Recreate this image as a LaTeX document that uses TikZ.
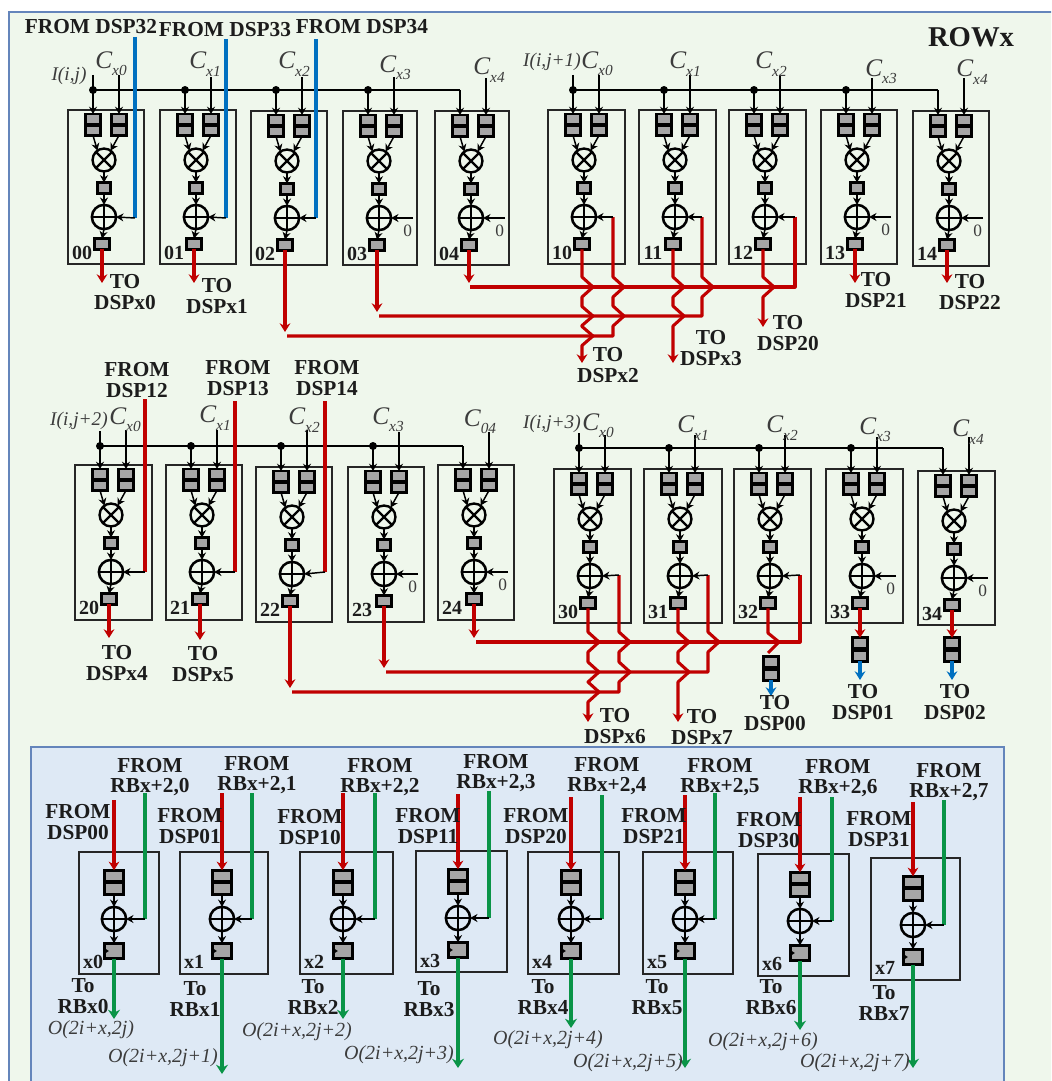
\documentclass[tikz,border=0pt]{standalone}
\usepackage{fontspec}
\setmainfont{Liberation Serif}
\usetikzlibrary{arrows.meta}
\definecolor{bggreen}{HTML}{EFF7EC}
\definecolor{bgblue}{HTML}{DEE9F5}
\definecolor{framecol}{HTML}{6485BB}
\definecolor{myred}{HTML}{C00000}
\definecolor{myblue}{HTML}{0070C0}
\definecolor{mygreen}{HTML}{0A9447}
\definecolor{reggray}{HTML}{A6A6A6}
\definecolor{txt}{HTML}{1C1C1C}
\definecolor{itx}{HTML}{3C3C3C}
\tikzset{
 blkbox/.style={draw=black!85,line width=1.1pt,inner sep=0,outer sep=0},
 regbox/.style={draw=black,fill=reggray,line width=2.1pt,inner sep=0,outer sep=0,minimum width=10.8pt,minimum height=7.4pt},
 smallreg/.style={regbox,line width=2pt,minimum width=10pt,minimum height=8.2pt},
 botreg/.style={regbox,line width=1.9pt,minimum width=14pt,minimum height=8.6pt},
 botout/.style={regbox,line width=1.9pt,minimum width=14.4pt,minimum height=11.4pt},
 mulop/.style={draw=black,circle,line width=1.8pt,minimum size=17.2pt,inner sep=0,outer sep=0},
 addop/.style={draw=black,circle,line width=1.9pt,minimum size=18.2pt,inner sep=0,outer sep=0},
 busdot/.style={fill=black,circle,minimum size=6pt,inner sep=0},
 blk/.style={draw=black,line width=1.1pt,-{Stealth[length=5.5pt,width=6pt]}},
 bline/.style={draw=black,line width=1.1pt},
 redl/.style={draw=myred,line width=2.3pt,line join=round},
 reda/.style={redl,-{Stealth[length=6.5pt,width=8pt]}},
 bluel/.style={draw=myblue,line width=2.6pt},
 bluea/.style={bluel,-{Stealth[length=6.5pt,width=8pt]}},
 greenl/.style={draw=mygreen,line width=2.3pt},
 greena/.style={greenl,-{Stealth[length=7pt,width=9pt]}},
 lbl/.style={font=\fontsize{16}{15.6}\selectfont\bfseries,text=txt,align=center,inner sep=0},
 idl/.style={font=\fontsize{15}{15}\selectfont\bfseries,text=txt,inner sep=0},
 itl/.style={font=\fontsize{15}{15}\selectfont\itshape,text=itx,inner sep=0},
 inl/.style={font=\fontsize{14.5}{15}\selectfont\itshape,text=itx,inner sep=0},
 cxl/.style={text=itx,inner sep=0},
 zerol/.style={font=\fontsize{13}{13}\selectfont,text=itx,inner sep=0},
 qreg/.style={regbox,minimum width=11pt,minimum height=7.8pt},
}
\newcommand\Cxl[1]{\fontsize{19}{19}\selectfont\itshape C\raisebox{-5.5pt}{\fontsize{11.5}{12}\selectfont #1}}
\newcommand\hopd[3]{-- ({#1},{#2-#3}) -- ({#1+11},{#2}) -- ({#1},{#2+#3})}
\newcommand\hopu[3]{-- ({#1},{#2+#3}) -- ({#1+11},{#2}) -- ({#1},{#2-#3})}
\def\odx{34}
% name,left,top,right,bottom,bus y,C top y
\newcommand\dspblk[7]{%
 \node[blkbox,minimum width={(#4-#2)*0.75pt},minimum height={(#5-#3)*0.75pt}] (#1-box) at ({(#2+#4)/2},{(#3+#5)/2}) {};
 \node[regbox] (#1-a1) at ({#2+25},{#3+9}) {};
 \node[regbox] (#1-b1) at ({#2+25},{#3+20.5}) {};
 \node[regbox] (#1-a2) at ({#2+51},{#3+9}) {};
 \node[regbox] (#1-b2) at ({#2+51},{#3+20.5}) {};
 \node[mulop] (#1-m) at ({#2+36},{#3+50}) {};
 \draw[line width=1.8pt] (#1-m.north west)--(#1-m.south east) (#1-m.north east)--(#1-m.south west);
 \node[smallreg] (#1-r) at ({#2+36},{#3+78}) {};
 \node[addop] (#1-p) at ({#2+36},{#3+107}) {};
 \draw[line width=1.9pt] (#1-p.north)--(#1-p.south) (#1-p.west)--(#1-p.east);
 \node[smallreg,minimum width=11pt] (#1-o) at ({#2+\odx},{#3+134}) {};
 \node[idl] (#1-id) at ({#2+14},{#3+143}) {#1};
 \coordinate (#1-d) at ({#2+25},#6);
 \coordinate (#1-c) at ({#2+51},#7);
 \draw[blk] (#1-d)--(#1-a1.north);
 \draw[blk] (#1-c)--(#1-a2.north);
 \draw[blk] (#1-b1.south)--(#1-m.125);
 \draw[blk] (#1-b2.south)--(#1-m.55);
 \draw[blk] (#1-m.south)--(#1-r.north);
 \draw[blk] (#1-r.south)--(#1-p.north);
 \draw[blk] (#1-p.south)--(#1-o.north);
}
\newcommand\zeroin[1]{%
 \coordinate (#1-z) at ([xshift=16.5pt]#1-p.east);
 \draw[blk] (#1-z)--(#1-p.east);
 \node[zerol] (#1-zero) at ([xshift=12.5pt,yshift=-9.5pt]#1-p.east) {0};
}
% name,reg x,box l,box t,box r,box b,green x,green top,red top
\newcommand\botblk[9]{%
 \node[blkbox,minimum width={(#5-#3)*0.75pt},minimum height={(#6-#4)*0.75pt}] (#1-box) at ({(#3+#5)/2},{(#4+#6)/2}) {};
 \node[botreg] (#1-a) at (#2,{#4+24}) {};
 \node[botreg] (#1-b) at (#2,{#4+36.5}) {};
 \node[addop] (#1-p) at (#2,{#4+67}) {};
 \draw[line width=1.9pt] (#1-p.north)--(#1-p.south) (#1-p.west)--(#1-p.east);
 \node[botout] (#1-o) at (#2,{#4+99}) {};
 \fill[black] ([xshift=0.3pt,yshift=2pt]#1-o.west)--++(3pt,-2pt)--++(-3pt,-2pt)--cycle;
 \node[idl] (#1-id) at ({#3+14},{#4+110}) {#1};
 \coordinate (#1-g) at (#7,#8);
 \coordinate (#1-gb) at (#7,{#4+67});
 \coordinate (#1-rt) at (#2,#9);
 \draw[blk] (#1-b.south)--(#1-p.north);
 \draw[blk] (#1-p.south)--(#1-o.north);
 \draw[greenl] (#1-g)--(#1-gb);
 \draw[blk] (#1-gb)--(#1-p.east);
 \draw[reda] (#1-rt)--(#1-a.north);
}
\begin{document}
\begin{tikzpicture}[x=0.75pt,y=-0.75pt]
\clip (0,0) rectangle (1051,1081);
\fill[white] (0,0) rectangle (1051,1081);
\draw[fill=bggreen,draw=framecol,line width=1.3pt] (9,12) rectangle (1070,1100);
\draw[fill=bgblue,draw=framecol,line width=1.3pt] (31,747) rectangle (1004,1100);

% row 1
\dspblk{00}{68}{110}{144}{264}{90}{75}
\dspblk{01}{160}{110}{236}{264}{90}{77}
\dspblk{02}{251}{111}{327}{265}{90}{77}
\dspblk{03}{343}{111}{417}{265}{90}{77}
\dspblk{04}{435}{111}{509}{265}{90}{78}
\dspblk{10}{548}{110}{625}{264}{90}{75}
\dspblk{11}{639}{110}{716}{264}{90}{75}
\dspblk{12}{729}{110}{806}{264}{90}{75}
\dspblk{13}{821}{110}{897}{264}{90}{78}
\dspblk{14}{913}{111}{989}{266}{90}{78}
% row 2
\dspblk{20}{75}{465}{152}{620}{446}{430}
\dspblk{21}{166}{465}{242}{620}{446}{430}
\dspblk{22}{256}{467}{332}{622}{446}{430}
\def\odx{36}
\dspblk{23}{348}{467}{424}{622}{446}{432}
\dspblk{24}{438}{465}{514}{620}{446}{432}
\def\odx{34}
\dspblk{30}{554}{469}{631}{623}{448}{435}
\dspblk{31}{644}{469}{722}{623}{448}{435}
\dspblk{32}{734}{469}{811}{623}{448}{435}
\dspblk{33}{826}{469}{903}{623}{448}{437}
\dspblk{34}{918}{471}{995}{625}{448}{437}
\zeroin{03}\zeroin{04}\zeroin{13}\zeroin{14}\zeroin{23}\zeroin{24}\zeroin{33}\zeroin{34}

% buses
\coordinate (inA) at (93,75);
\coordinate (inB) at (573,75);
\coordinate (inC) at (100,431);
\coordinate (inD) at (579,433);
\draw[bline] (inA)--(00-d)--(04-d);
\draw[bline] (inB)--(10-d)--(14-d);
\draw[bline] (inC)--(20-d)--(24-d);
\draw[bline] (inD)--(30-d)--(34-d);
\foreach \n in {00,01,02,03,10,11,12,13,20,21,22,23,30,31,32,33}{
 \node[busdot] (dot\n) at (\n-d) {};
}

% second-stage registers of row 3
\node[qreg] (q32a) at (771,662) {};
\node[qreg] (q32b) at (771,675) {};
\node[qreg] (q33a) at (860,643) {};
\node[qreg] (q33b) at (860,656) {};
\node[qreg] (q34a) at (952,643) {};
\node[qreg] (q34b) at (952,656) {};
\coordinate (e32) at (771,696);
\coordinate (e33) at (860,680);
\coordinate (e34) at (952,680);
\draw[bluea] (q32b.south)--(e32);
\draw[bluea] (q33b.south)--(e33);
\draw[bluea] (q34b.south)--(e34);

% blue feeds
\foreach \n/\x/\t in {00/135/37,01/226/39,02/316/39}{
 \coordinate (t\n) at (\x,\t);
 \coordinate (f\n) at (\x,218);
 \draw[bluel] (t\n)--(f\n);
 \draw[blk] (f\n)--(\n-p.east);
}
% red feeds row 2 left
\foreach \n/\x/\t in {20/145/399,21/235/401,22/325/401}{
 \coordinate (t\n) at (\x,\t);
 \coordinate (f\n) at (\x,572);
 \draw[redl] (t\n)--(f\n);
 \draw[blk] (f\n)--(\n-p.east);
}
% simple outputs
\foreach \n/\x/\y in {00/103/283,01/195/283,13/856/283,14/948/283,20/109/638,21/201/640}{
 \coordinate (e\n) at (\x,\y);
 \draw[reda] (\n-o.south)--(\n-o.south|-e\n);
}
\draw[reda] (33-o.south)--(33-o.south|-q33a.north);
\draw[reda] (34-o.south)--(34-o.south|-q34a.north);

% row 1 routed outputs
\coordinate (e02) at (285,332);
\coordinate (e03) at (377,312);
\coordinate (e04) at (468,283);
\draw[reda] (02-o.south)--(02-o.south|-e02);
\draw[reda] (03-o.south)--(03-o.south|-e03);
\draw[reda] (04-o.south)--(04-o.south|-e04);
\coordinate (f10) at (613,217);
\coordinate (f11) at (702,217);
\coordinate (f12) at (795,217);
\draw[redl] (287,336) -- (613,336) -- (613,326) \hopu{613}{316}{10} \hopu{613}{287}{10} -- (f10);
\draw[redl] (379,316) -- (702,316) -- (702,298) \hopu{702}{287}{10} -- (f11);
\draw[redl] (470,287) -- (795,287) -- (f12);
\draw[blk] (f10)--(10-p.east);
\draw[blk] (f11)--(11-p.east);
\draw[blk] (f12)--(12-p.east);
\draw[reda] (10-o.south) -- (582,276) \hopd{582}{287}{10} -- (582,306) \hopd{582}{316}{9.5} \hopd{582}{336}{9.5} -- (582,363);
\draw[reda] (11-o.south) -- (673,276) \hopd{673}{287}{10} -- (673,306) \hopd{673}{316}{10} -- (673,363);
\draw[reda] (12-o.south) -- (763,276) \hopd{763}{287}{10} -- (763,327);

% row 2 routed outputs
\coordinate (e22) at (290,688);
\coordinate (e23) at (384,668);
\coordinate (e24) at (474,638);
\draw[reda] (22-o.south)--(22-o.south|-e22);
\draw[reda] (23-o.south)--(23-o.south|-e23);
\draw[reda] (24-o.south)--(24-o.south|-e24);
\coordinate (f30) at (619,575);
\coordinate (f31) at (708,575);
\coordinate (f32) at (800,575);
\draw[redl] (292,692) -- (619,692) -- (619,682) \hopu{619}{672}{10} \hopu{619}{642}{10} -- (f30);
\draw[redl] (386,672) -- (708,672) -- (708,653) \hopu{708}{642}{10} -- (f31);
\draw[redl] (476,642) -- (800,642) -- (f32);
\draw[blk] (f30)--(30-p.east);
\draw[blk] (f31)--(31-p.east);
\draw[blk] (f32)--(32-p.east);
\draw[reda] (30-o.south) -- (588,631) \hopd{588}{642}{10} -- (588,662) \hopd{588}{672}{10} \hopd{588}{692}{10} -- (588,722);
\draw[reda] (31-o.south) -- (678,631) \hopd{678}{642}{10} -- (678,662) \hopd{678}{672}{10} -- (678,722);
\draw[redl] (32-o.south) -- (768,633) -- (779,642) -- (768,653);

% top labels
\node[lbl] (f32t) at (91,27) {FROM DSP32};
\node[lbl] (f33t) at (225,30) {FROM DSP33};
\node[lbl] (f34t) at (362,27) {FROM DSP34};
\node[font=\fontsize{21.5}{22}\selectfont\bfseries,text=txt,inner sep=0] (rowx) at (971,37) {ROWx};
\node[lbl] (l12) at (137,380) {FROM\\DSP12};
\node[lbl] (l13) at (238,378) {FROM\\DSP13};
\node[lbl] (l14) at (327,378) {FROM\\DSP14};
% output labels
\node[lbl] (to0) at (125,292) {TO\\DSPx0};
\node[lbl] (to1) at (217,296) {TO\\DSPx1};
\node[lbl] (to2) at (608,365) {TO\\DSPx2};
\node[lbl] (to3) at (711,348) {TO\\DSPx3};
\node[lbl] (to20) at (788,333) {TO\\DSP20};
\node[lbl] (to21) at (876,290) {TO\\DSP21};
\node[lbl] (to22) at (970,292) {TO\\DSP22};
\node[lbl] (to4) at (117,663) {TO\\DSPx4};
\node[lbl] (to5) at (203,664) {TO\\DSPx5};
\node[lbl] (to6) at (615,726) {TO\\DSPx6};
\node[lbl] (to7) at (702,727) {TO\\DSPx7};
\node[lbl] (to00) at (775,713) {TO\\DSP00};
\node[lbl] (to01) at (863,702) {TO\\DSP01};
\node[lbl] (to02) at (955,702) {TO\\DSP02};
% input labels
\node[inl] (iA) at (69,76) {I(i,j)};
\node[inl] (iB) at (552,62) {I(i,j+1)};
\node[inl] (iC) at (79,421) {I(i,j+2)};
\node[inl] (iD) at (552,424) {I(i,j+3)};
\node[cxl] (ca0) at (111,64) {\Cxl{x0}};
\node[cxl] (ca1) at (205,64) {\Cxl{x1}};
\node[cxl] (ca2) at (294,64) {\Cxl{x2}};
\node[cxl] (ca3) at (395,68) {\Cxl{x3}};
\node[cxl] (ca4) at (489,70) {\Cxl{x4}};
\node[cxl] (cb0) at (597,64) {\Cxl{x0}};
\node[cxl] (cb1) at (685,64) {\Cxl{x1}};
\node[cxl] (cb2) at (771,64) {\Cxl{x2}};
\node[cxl] (cb3) at (881,72) {\Cxl{x3}};
\node[cxl] (cb4) at (972,72) {\Cxl{x4}};
\node[cxl] (cc0) at (125,420) {\Cxl{x0}};
\node[cxl] (cc1) at (215,418) {\Cxl{x1}};
\node[cxl] (cc2) at (304,420) {\Cxl{x2}};
\node[cxl] (cc3) at (388,420) {\Cxl{x3}};
\node[cxl] (cc4) at (480,422) {\Cxl{04}};
\node[cxl] (cd0) at (598,426) {\Cxl{x0}};
\node[cxl] (cd1) at (693,428) {\Cxl{x1}};
\node[cxl] (cd2) at (782,428) {\Cxl{x2}};
\node[cxl] (cd3) at (875,430) {\Cxl{x3}};
\node[cxl] (cd4) at (968,432) {\Cxl{x4}};

% bottom panel
\botblk{x0}{114}{79}{852}{159}{974}{145}{793}{800}
\botblk{x1}{222}{180}{852}{268}{974}{252}{793}{793}
\botblk{x2}{343}{300}{852}{393}{974}{375}{793}{793}
\botblk{x3}{458}{416}{851}{507}{972}{489}{791}{794}
\botblk{x4}{571}{528}{852}{619}{974}{602}{795}{797}
\botblk{x5}{685}{643}{852}{733}{974}{715}{793}{795}
\botblk{x6}{800}{758}{854}{849}{976}{832}{797}{797}
\botblk{x7}{913}{871}{858}{960}{980}{944}{800}{802}
\foreach \n/\y in {x0/1019,x1/1074,x2/1019,x3/1068,x4/1028,x5/1068,x6/1030,x7/1068}{
 \coordinate (e\n) at (\n-o.south|-0,\y);
 \draw[greena] (\n-o.south)--(e\n);
}
\node[lbl] (rb0) at (150,777) {FROM\\RBx+2,0};
\node[lbl] (rb1) at (257,775) {FROM\\RBx+2,1};
\node[lbl] (rb2) at (380,777) {FROM\\RBx+2,2};
\node[lbl] (rb3) at (496,773) {FROM\\RBx+2,3};
\node[lbl] (rb4) at (607,776) {FROM\\RBx+2,4};
\node[lbl] (rb5) at (720,777) {FROM\\RBx+2,5};
\node[lbl] (rb6) at (838,778) {FROM\\RBx+2,6};
\node[lbl] (rb7) at (949,782) {FROM\\RBx+2,7};
\node[lbl] (fd0) at (78,822) {FROM\\DSP00};
\node[lbl] (fd1) at (190,826) {FROM\\DSP01};
\node[lbl] (fd2) at (310,827) {FROM\\DSP10};
\node[lbl] (fd3) at (428,826) {FROM\\DSP11};
\node[lbl] (fd4) at (536,826) {FROM\\DSP20};
\node[lbl] (fd5) at (654,826) {FROM\\DSP21};
\node[lbl] (fd6) at (769,830) {FROM\\DSP30};
\node[lbl] (fd7) at (879,829) {FROM\\DSP31};
\node[lbl] (tr0) at (83,996) {To\\RBx0};
\node[lbl] (tr1) at (195,999) {To\\RBx1};
\node[lbl] (tr2) at (313,997) {To\\RBx2};
\node[lbl] (tr3) at (429,999) {To\\RBx3};
\node[lbl] (tr4) at (543,997) {To\\RBx4};
\node[lbl] (tr5) at (657,997) {To\\RBx5};
\node[lbl] (tr6) at (771,997) {To\\RBx6};
\node[lbl] (tr7) at (884,1003) {To\\RBx7};
\node[itl] (o0) at (91,1030) {O(2i+x,2j)};
\node[itl] (o1) at (163,1058) {O(2i+x,2j+1)};
\node[itl] (o2) at (297,1032) {O(2i+x,2j+2)};
\node[itl] (o3) at (399,1055) {O(2i+x,2j+3)};
\node[itl] (o4) at (548,1040) {O(2i+x,2j+4)};
\node[itl] (o5) at (628,1063) {O(2i+x,2j+5)};
\node[itl] (o6) at (763,1042) {O(2i+x,2j+6)};
\node[itl] (o7) at (855,1063) {O(2i+x,2j+7)};
\end{tikzpicture}
\end{document}
